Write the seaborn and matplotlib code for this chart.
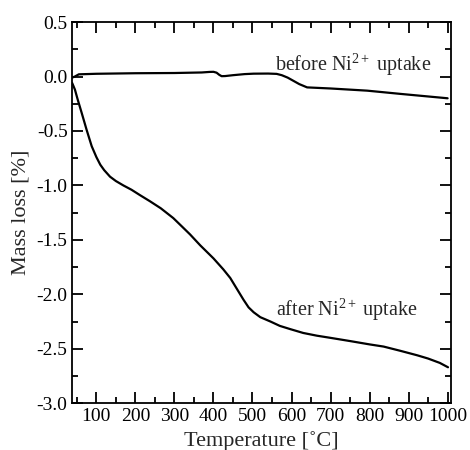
import matplotlib
matplotlib.use("Agg")
import matplotlib.pyplot as plt
from matplotlib.ticker import MultipleLocator
import seaborn as sns
import pandas as pd

# before Ni2+ uptake
before_T = [38, 45, 55, 100, 200, 300, 370, 390, 400, 408, 415, 421, 430, 450, 480, 503, 540, 562, 575, 590, 605, 620, 640, 700, 794, 880, 1000]
before_m = [-0.01, 0.0, 0.02, 0.025, 0.03, 0.032, 0.037, 0.042, 0.043, 0.035, 0.015, 0.003, 0.004, 0.012, 0.022, 0.026, 0.027, 0.024, 0.012, -0.01, -0.04, -0.07, -0.1, -0.11, -0.13, -0.16, -0.2]

# after Ni2+ uptake
after_T = [38, 45, 52, 62, 75, 88, 100, 110, 120, 135, 150, 169, 190, 212, 237, 265, 297, 320, 340, 366, 400, 425, 443, 460, 477, 490, 503, 520, 546, 570, 597, 630, 665, 700, 751, 800, 836, 880, 922, 950, 980, 1001]
after_m = [-0.06, -0.12, -0.21, -0.33, -0.49, -0.64, -0.74, -0.81, -0.86, -0.92, -0.96, -1.00, -1.04, -1.09, -1.145, -1.21, -1.30, -1.38, -1.45, -1.55, -1.67, -1.77, -1.85, -1.95, -2.05, -2.12, -2.165, -2.21, -2.25, -2.29, -2.32, -2.355, -2.38, -2.40, -2.43, -2.46, -2.48, -2.52, -2.56, -2.59, -2.63, -2.67]

labels = ["before Ni$^{2+}$ uptake", "after Ni$^{2+}$ uptake"]
label_pos = [(759, 0.11), (743, -2.14)]

sns.set_style("ticks")
plt.rcParams["font.family"] = ["Liberation Serif", "DejaVu Serif"]
plt.rcParams["mathtext.fontset"] = "custom"
plt.rcParams["mathtext.rm"] = "Liberation Serif"
plt.rcParams["mathtext.it"] = "Liberation Serif:italic"
plt.rcParams["mathtext.bf"] = "Liberation Serif:bold"

fig = plt.figure(figsize=(4.7, 4.5), dpi=100)
ax = fig.add_axes([0.154, 0.104, 0.805, 0.847])

df_b = pd.DataFrame({"T": before_T, "m": before_m})
df_a = pd.DataFrame({"T": after_T, "m": after_m})
sns.lineplot(data=df_b, x="T", y="m", color="black", lw=1.6, ax=ax)
sns.lineplot(data=df_a, x="T", y="m", color="black", lw=1.6, ax=ax)

for lab, (x, y) in zip(labels, label_pos):
    ax.text(x, y, lab, ha="center", va="center", fontsize=14.5)

ax.set_xlim(38.5, 1008)
ax.set_ylim(-3.0, 0.5)
ax.xaxis.set_major_locator(MultipleLocator(100))
ax.xaxis.set_minor_locator(MultipleLocator(50))
ax.yaxis.set_major_locator(MultipleLocator(0.5))
ax.yaxis.set_minor_locator(MultipleLocator(0.25))
ax.set_xticks(list(range(100, 1001, 100)))
ax.set_yticks([0.5, 0.0, -0.5, -1.0, -1.5, -2.0, -2.5, -3.0])
ax.set_yticklabels(["0.5", "0.0", "-0.5", "-1.0", "-1.5", "-2.0", "-2.5", "-3.0"])
ax.tick_params(which="both", direction="in", top=True, right=True, width=1.3, labelsize=14, colors="black")
ax.tick_params(which="major", length=8)
ax.tick_params(which="minor", length=4)
for s in ax.spines.values():
    s.set_linewidth(1.3)
    s.set_color("black")
ax.set_xlabel("Temperature [˚C]", fontsize=16)
ax.set_ylabel("Mass loss [%]", fontsize=16)

fig.savefig("out.png", dpi=100)
